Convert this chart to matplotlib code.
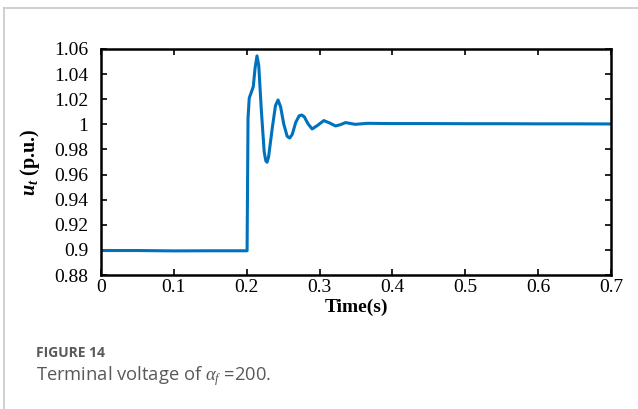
import numpy as np
import matplotlib
matplotlib.use("Agg")
import matplotlib.pyplot as plt
from matplotlib.lines import Line2D

# %%
# terminal voltage (time in s, voltage in p.u.)
tempo = [0.0, 0.05, 0.10, 0.15, 0.2005, 0.2018, 0.2035, 0.2063, 0.2090, 0.2115,
         0.2141, 0.2165, 0.2201, 0.2240, 0.2262, 0.2279, 0.2300, 0.2352, 0.2395,
         0.2430, 0.2465, 0.2508, 0.2555, 0.2590, 0.2625, 0.2673, 0.2720, 0.2755,
         0.2790, 0.2843, 0.2898, 0.2980, 0.3058, 0.3140, 0.3219, 0.3290, 0.3356,
         0.3490, 0.3655, 0.40, 0.45, 0.50, 0.55, 0.60, 0.65, 0.70]
tensao = [0.8995, 0.8995, 0.8992, 0.8993, 0.8993, 1.0050, 1.0210, 1.0255, 1.0300, 1.0450,
          1.0545, 1.0470, 1.0109, 0.9780, 0.9710, 0.9698, 0.9740, 0.9976, 1.0150,
          1.0194, 1.0140, 1.0003, 0.9905, 0.9891, 0.9920, 1.0016, 1.0068, 1.0074,
          1.0060, 1.0003, 0.9963, 0.9995, 1.0030, 1.0010, 0.9987, 0.9998, 1.0014,
          1.0000, 1.0008, 1.0006, 1.0006, 1.0005, 1.0005, 1.0004, 1.0004, 1.0003]

xticks = [0, 0.1, 0.2, 0.3, 0.4, 0.5, 0.6, 0.7]
xticklabels = ["0", "0.1", "0.2", "0.3", "0.4", "0.5", "0.6", "0.7"]
yticks = [0.88, 0.90, 0.92, 0.94, 0.96, 0.98, 1.00, 1.02, 1.04, 1.06]
yticklabels = ["0.88", "0.9", "0.92", "0.94", "0.96", "0.98", "1", "1.02", "1.04", "1.06"]

# %%
plt.rcParams["font.family"] = ["Liberation Serif", "DejaVu Serif"]
plt.rcParams["mathtext.fontset"] = "custom"
plt.rcParams["mathtext.rm"] = "Liberation Serif"
plt.rcParams["mathtext.it"] = "Liberation Serif:italic"
plt.rcParams["mathtext.bf"] = "Liberation Serif:bold"
plt.rcParams["mathtext.bfit"] = "Liberation Serif:italic:bold"

fig = plt.figure(figsize=(6.38, 4.09), dpi=100)
ax = fig.add_axes([0.1583, 0.3276, 0.7994, 0.5526])

ax.plot(tempo, tensao, color="#0072BD", linewidth=2.2, solid_joinstyle="round")

ax.set_xlim(0, 0.7)
ax.set_ylim(0.88, 1.06)
ax.set_xticks(xticks)
ax.set_xticklabels(xticklabels)
ax.set_yticks(yticks)
ax.set_yticklabels(yticklabels)
ax.tick_params(direction="in", length=4, width=1.2, top=True, right=True,
               labelsize=14, colors="black")
ax.tick_params(axis="x", pad=3)
ax.tick_params(axis="y", pad=9)
for s in ax.spines.values():
    s.set_linewidth(1.8)

ax.set_xlabel("Time(s)", fontsize=14, fontweight="bold", labelpad=2)
ax.set_ylabel(r"$\mathbfit{u}_{\mathbfit{t}}$ (p.u.)", fontsize=14.5, fontweight="bold", labelpad=9)

# moldura cinza da pagina
fig.add_artist(Line2D([4 / 638, 4 / 638], [0, 1 - 8 / 409], color="#c8c8c8", lw=1.2))
fig.add_artist(Line2D([4 / 638, 1], [1 - 8 / 409, 1 - 8 / 409], color="#c8c8c8", lw=1.2))

# legenda da figura
fig.text(36 / 638, 1 - 353 / 409, "FIGURE 14", family="Open Sans", fontweight="bold",
         fontsize=10, color="#595959", va="center")
fig.text(36 / 638, 1 - 376 / 409, r"Terminal voltage of $\alpha_f$ =200.", family="Open Sans",
         fontsize=13.2, color="#595959", va="center")

fig.savefig("out.png", dpi=100)
